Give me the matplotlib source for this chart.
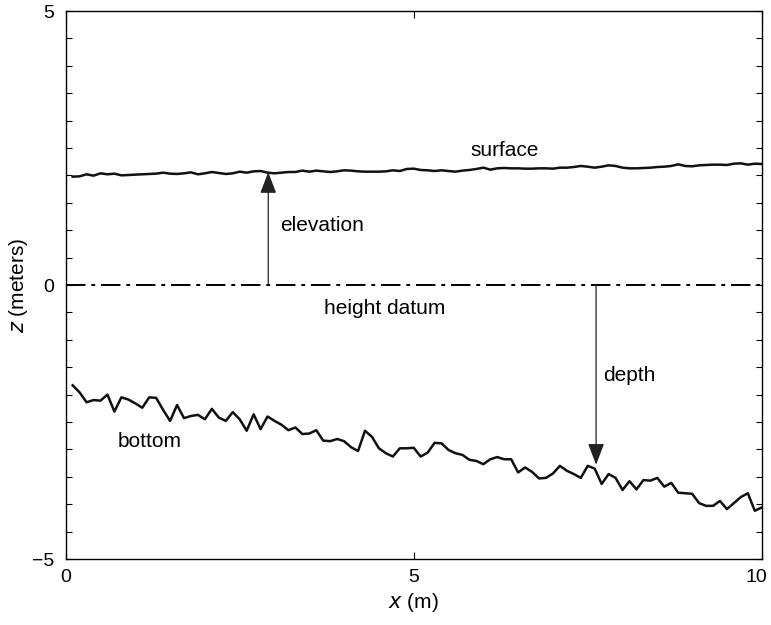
import numpy as np
import matplotlib
matplotlib.use("Agg")
import matplotlib.pyplot as plt
import matplotlib.transforms as mtransforms
from matplotlib.ticker import MultipleLocator

plt.rcParams["font.family"] = ["Liberation Sans", "DejaVu Sans"]

# sample positions along the profile (m)
x = np.round(np.arange(1, 101) * 0.1, 1)

# water surface elevation (m)
surface = [
    1.977, 1.983, 2.020, 1.995, 2.038, 2.020, 2.032, 2.001, 2.007, 2.014,
    2.020, 2.026, 2.032, 2.050, 2.032, 2.026, 2.038, 2.056, 2.020, 2.038,
    2.062, 2.044, 2.026, 2.038, 2.068, 2.050, 2.074, 2.080, 2.050, 2.038,
    2.050, 2.062, 2.062, 2.087, 2.068, 2.087, 2.074, 2.062, 2.074, 2.093,
    2.087, 2.074, 2.068, 2.068, 2.068, 2.074, 2.093, 2.080, 2.117, 2.123,
    2.099, 2.093, 2.080, 2.093, 2.080, 2.068, 2.087, 2.099, 2.117, 2.141,
    2.105, 2.129, 2.135, 2.129, 2.129, 2.123, 2.123, 2.129, 2.129, 2.123,
    2.141, 2.141, 2.153, 2.172, 2.159, 2.141, 2.159, 2.184, 2.172, 2.141,
    2.129, 2.129, 2.135, 2.141, 2.153, 2.159, 2.172, 2.202, 2.172, 2.166,
    2.184, 2.190, 2.196, 2.196, 2.190, 2.214, 2.220, 2.196, 2.214, 2.208,
]

# bottom elevation (m)
bottom = [
    -1.83, -1.96, -2.14, -2.10, -2.11, -2.00, -2.31, -2.05, -2.09, -2.16,
    -2.24, -2.05, -2.06, -2.28, -2.48, -2.19, -2.43, -2.39, -2.37, -2.45,
    -2.26, -2.42, -2.48, -2.32, -2.45, -2.66, -2.36, -2.63, -2.40, -2.48,
    -2.55, -2.65, -2.60, -2.72, -2.71, -2.65, -2.84, -2.85, -2.81, -2.85,
    -2.96, -3.03, -2.66, -2.77, -2.98, -3.07, -3.13, -2.98, -2.98, -2.97,
    -3.13, -3.06, -2.88, -2.89, -3.01, -3.07, -3.10, -3.19, -3.21, -3.27,
    -3.18, -3.14, -3.18, -3.18, -3.42, -3.33, -3.41, -3.53, -3.52, -3.44,
    -3.30, -3.39, -3.45, -3.52, -3.30, -3.35, -3.63, -3.45, -3.52, -3.74,
    -3.58, -3.73, -3.56, -3.57, -3.52, -3.68, -3.61, -3.79, -3.80, -3.81,
    -3.98, -4.03, -4.03, -3.94, -4.09, -3.98, -3.87, -3.80, -4.12, -4.06,
]

# arrows: (x, y_start, y_end)
elev_arrow = (2.91, 0.0, 2.06)
depth_arrow = (7.62, 0.0, -3.28)

fig = plt.figure(figsize=(7.71, 6.25), dpi=100)
ax = fig.add_axes([0.0852, 0.1056, 0.9028, 0.8768])

ax.plot(x, surface, color="#111111", lw=1.8)
ax.plot(x, bottom, color="#111111", lw=1.8)
ax.plot([0, 10], [0, 0], color="k", lw=1.4, linestyle=(0, (10, 3, 2, 3)))

arrow_style = dict(arrowstyle="-|>,head_length=1.1,head_width=0.42",
                   color="#222222", lw=0.9, shrinkA=0, shrinkB=0, mutation_scale=12)
for ax_x, y0, y1 in (elev_arrow, depth_arrow):
    ax.annotate("", xy=(ax_x, y1), xytext=(ax_x, y0), arrowprops=arrow_style)

fs = 15
ax.text(6.31, 2.46, "surface", fontsize=fs, ha="center", va="center")
ax.text(3.08, 1.08, "elevation", fontsize=fs, ha="left", va="center")
ax.text(4.58, -0.42, "height datum", fontsize=fs, ha="center", va="center")
ax.text(7.72, -1.66, "depth", fontsize=fs, ha="left", va="center")
ax.text(1.20, -2.85, "bottom", fontsize=fs, ha="center", va="center")

ax.set_xlim(0, 10)
ax.set_ylim(-5, 5)
ax.set_xticks([0, 5, 10])
ax.set_yticks([-5, 0, 5])
ax.set_yticklabels(["\u22125", "0", "5"])
ax.yaxis.set_minor_locator(MultipleLocator(0.5))
ax.tick_params(which="both", direction="in", top=True, right=True,
               labelsize=14, width=0.8)
ax.tick_params(which="major", length=5)
ax.tick_params(which="minor", length=4)
ax.tick_params(axis="x", pad=7)
ax.tick_params(axis="y", pad=8)
for s in ax.spines.values():
    s.set_linewidth(1.0)

# nudge the "10" label a little so it stays inside the canvas
last = ax.get_xticklabels()[-1]
last.set_transform(last.get_transform() +
                   mtransforms.ScaledTranslation(-4 / 72, 0, fig.dpi_scale_trans))

ax.set_xlabel(r"$x$ (m)", fontsize=15, labelpad=4)
ax.set_ylabel(r"$z$ (meters)", fontsize=15, labelpad=2)

fig.savefig("out.png", dpi=100)
